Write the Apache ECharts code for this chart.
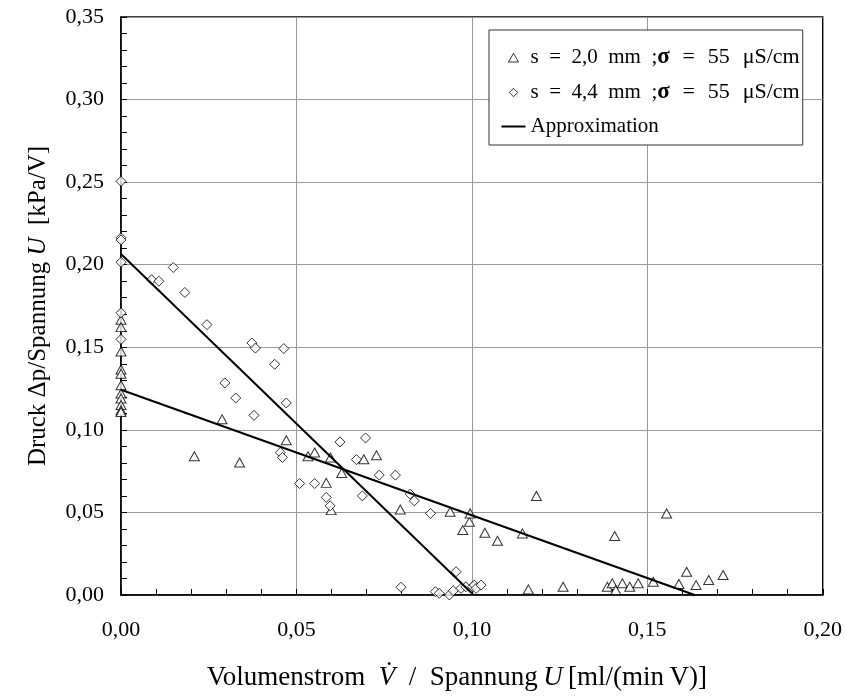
<!DOCTYPE html>
<html>
<head>
<meta charset="utf-8">
<script src="https://cdn.jsdelivr.net/npm/echarts@6/dist/echarts.min.js"></script>
<style>html,body{margin:0;padding:0;background:#fff;}#c{width:845px;height:697px;}</style>
</head>
<body>
<div id="c"></div>
<script>
// ---- data ----
const seriesNames = ['s = 2,0 mm ;σ = 55 μS/cm', 's = 4,4 mm ;σ = 55 μS/cm', 'Approximation'];
const xTicks = [0, 0.05, 0.10, 0.15, 0.20];
const yTicks = [0, 0.05, 0.10, 0.15, 0.20, 0.25, 0.30, 0.35];

const triX = [0,0,0,0,0,0,0,0,0,0,0,
  0.0209,0.0288,0.0338,0.0471,
  0.0533,0.0552,0.0585,0.0597,0.0599,0.0629,0.0692,0.0728,0.0796,0.0938,0.0974,0.0993,0.0995,
  0.1037,0.1073,0.1144,0.1161,0.1184,0.1260,0.1386,0.1400,0.1407,0.1410,0.1429,0.1450,0.1474,0.1517,0.1555,0.1590,0.1612,0.1639,0.1675,0.1716];
const triY = [0.1667,0.1622,0.1474,0.1365,0.1340,0.1270,0.1220,0.1190,0.1150,0.1119,0.1108,
  0.0840,0.1064,0.0802,0.0937,
  0.0840,0.0863,0.0679,0.0833,0.0514,0.0739,0.0822,0.0846,0.0518,0.0504,0.0393,0.0443,0.0494,
  0.0377,0.0328,0.0373,0.0034,0.0600,0.0050,0.0050,0.0071,0.0357,0.0030,0.0071,0.0050,0.0071,0.0080,0.0494,0.0067,0.0141,0.0060,0.0091,0.0121];

const diaX = [0,0,0,0,0,0,
  0.0087,0.0108,0.0149,0.0182,0.0245,0.0296,0.0327,0.0373,0.0379,0.0383,0.0438,0.0454,0.0460,0.0464,0.0471,
  0.0509,0.0552,0.0585,0.0596,0.0624,0.0671,0.0688,0.0697,0.0736,0.0782,0.0798,0.0824,0.0836,0.0882,0.0896,0.0907,0.0936,0.0947,0.0955,0.0969,0.0983,0.1002,0.1007,0.1012,0.1026];
const diaY = [0.2505,0.2163,0.2150,0.2015,0.1709,0.1548,
  0.1909,0.1900,0.1983,0.1832,0.1637,0.1284,0.1193,0.1526,0.1088,0.1495,0.1397,0.0863,0.0833,0.1492,0.1163,
  0.0675,0.0675,0.0591,0.0540,0.0927,0.0820,0.0600,0.0951,0.0726,0.0726,0.0047,0.0611,0.0570,0.0494,0.0020,0.0010,0.0000,0.0026,0.0141,0.0040,0.0050,0.0050,0.0060,0.0040,0.0060];

const fitTriX = [0, 0.1635];
const fitTriY = [0.1243, 0];
const fitDiaX = [0, 0.1005];
const fitDiaY = [0.2065, 0];

// ---- build ----
const zip = (a, b) => a.map((v, i) => [v, b[i]]);
const FONT = '"Liberation Serif", "Times New Roman", serif';
const fmt = v => v.toFixed(2).replace('.', ',');
const hollow = {color: '#fff', borderColor: '#000', borderWidth: 1};
// legend icons: 24x10 frame (invisible moveTo corners) holding a small glyph
const iconTri = 'path://M0,0M24,10M7,9.5L12,0.8L17,9.5Z';
const iconDia = 'path://M0,0M24,10M7.8,5L12,0.8L16.2,5L12,9.2Z';
const iconLine = 'path://M0,0M24,10M0,4L24,4L24,6L0,6Z';

const chart = echarts.init(document.getElementById('c'), null, {renderer: 'canvas'});
chart.setOption({
  backgroundColor: '#fff',
  animation: false,
  textStyle: {fontFamily: FONT, color: '#000'},
  grid: {left: 121, right: 22, top: 17, bottom: 102, show: true, borderColor: '#000', borderWidth: 1.5, backgroundColor: 'transparent'},
  xAxis: {
    type: 'value', min: xTicks[0], max: xTicks[xTicks.length - 1], interval: 0.05,
    name: 'Volumenstrom\u2002{i|V\u0307}\u2002/\u2002Spannung\u2009{i|U}\u2009[ml/(min\u2009V)]',
    nameLocation: 'middle', nameGap: 69,
    nameTextStyle: {fontFamily: FONT, fontSize: 27, color: '#000', padding: [0, 30, 0, 0],
      rich: {i: {fontFamily: FONT, fontSize: 27, fontStyle: 'italic', color: '#000'}}},
    axisLine: {show: true, onZero: false, lineStyle: {color: '#000', width: 1.5}},
    axisTick: {show: true, inside: true, length: 6, lineStyle: {color: '#000', width: 1}},
    minorTick: {show: true, splitNumber: 5, length: 6, lineStyle: {color: '#000', width: 1}},
    axisLabel: {fontFamily: FONT, fontSize: 22, color: '#000', margin: 24, formatter: fmt},
    splitLine: {show: true, lineStyle: {color: '#999', width: 1}}
  },
  yAxis: {
    type: 'value', min: yTicks[0], max: yTicks[yTicks.length - 1], interval: 0.05,
    name: 'Druck \u0394p/Spannung {i|U}\u2002[kPa/V]',
    nameLocation: 'middle', nameGap: 70, nameRotate: 90,
    nameTextStyle: {fontFamily: FONT, fontSize: 25, color: '#000',
      rich: {i: {fontFamily: FONT, fontSize: 25, fontStyle: 'italic', color: '#000'}}},
    axisLine: {show: true, onZero: false, lineStyle: {color: '#000', width: 1.5}},
    axisTick: {show: true, inside: true, length: 6, lineStyle: {color: '#000', width: 1}},
    minorTick: {show: true, splitNumber: 5, length: 6, lineStyle: {color: '#000', width: 1}},
    axisLabel: {fontFamily: FONT, fontSize: 22, color: '#000', margin: 17, formatter: fmt},
    splitLine: {show: true, lineStyle: {color: '#999', width: 1}}
  },
  legend: {
    left: 489, top: 30, orient: 'vertical', z: 6,
    data: [
      {name: seriesNames[0], icon: iconTri, itemStyle: hollow},
      {name: seriesNames[1], icon: iconDia, itemStyle: hollow},
      {name: seriesNames[2], icon: iconLine, itemStyle: {color: '#000', borderWidth: 0}}
    ],
    backgroundColor: '#fff', borderColor: '#333', borderWidth: 1,
    padding: [16, 3, 8, 12], itemGap: 12, itemWidth: 24, itemHeight: 10,
    formatter: name => {
      const k = name.indexOf(';');
      if (k < 0) return '{c|' + name + '}';
      const a = name.slice(0, k + 1).replace(/ /g, '\u2002');
      const b = name.slice(k + 1);
      return '{a|' + a + '}{s|' + b.charAt(0) + '}{b|' + b.slice(1).replace(/ /g, '\u2002\u200A') + '}';
    },
    textStyle: {fontFamily: FONT, color: '#000', fontSize: 21,
      rich: {
        a: {fontFamily: FONT, fontSize: 21, color: '#000', lineHeight: 24},
        s: {fontFamily: FONT, fontSize: 23, fontWeight: 'bold', color: '#000', lineHeight: 24},
        b: {fontFamily: FONT, fontSize: 22, color: '#000', lineHeight: 24},
        c: {fontFamily: FONT, fontSize: 21, color: '#000', lineHeight: 24}
      }}
  },
  series: [
    {name: seriesNames[0], type: 'scatter', data: zip(triX, triY), symbol: 'triangle', symbolSize: [10, 9],
      itemStyle: hollow, z: 3},
    {name: seriesNames[1], type: 'scatter', data: zip(diaX, diaY), symbol: 'diamond', symbolSize: 10,
      itemStyle: hollow, z: 3},
    {name: seriesNames[2], type: 'line', data: zip(fitTriX, fitTriY), symbol: 'none',
      lineStyle: {color: '#000', width: 2}, itemStyle: {color: '#000'}, z: 4},
    {name: seriesNames[2], type: 'line', data: zip(fitDiaX, fitDiaY), symbol: 'none',
      lineStyle: {color: '#000', width: 2}, itemStyle: {color: '#000'}, z: 4}
  ]
});
</script>
</body>
</html>
